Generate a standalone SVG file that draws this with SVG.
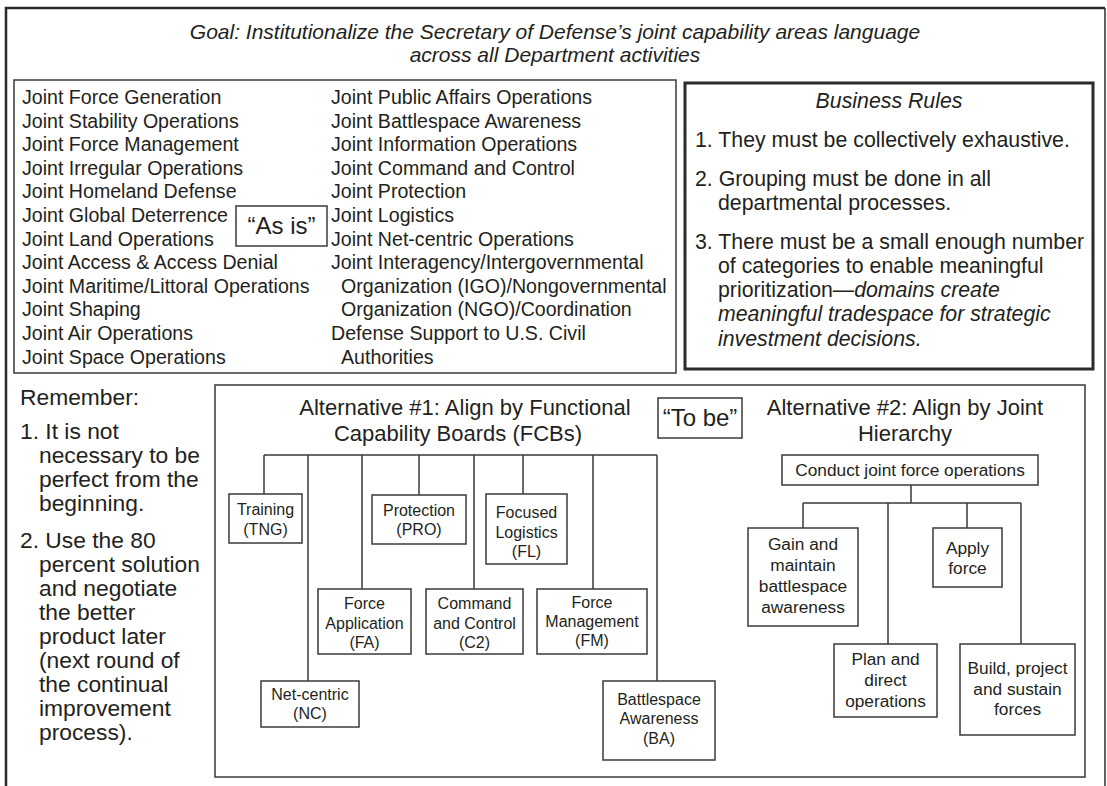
<svg xmlns="http://www.w3.org/2000/svg" width="1107" height="786" viewBox="0 0 1107 786">
  <style>
    text { font-family: "Liberation Sans", Arial, Helvetica, sans-serif; fill: #231f20; }
    .goal { font-size: 21px; font-style: italic; text-anchor: middle; }
    .list { font-size: 19.6px; }
    .rule { font-size: 21.3px; }
    .memo { font-size: 22.8px; }
    .it { font-style: italic; }
    .head { font-size: 22px; text-anchor: middle; }
    .tag { font-size: 24px; text-anchor: middle; }
    .n1 { font-size: 16px; text-anchor: middle; }
    .n2 { font-size: 17.3px; text-anchor: middle; }
    .box { fill: #fff; stroke: #3a3a3a; stroke-width: 1.5; }
    .frame { fill: none; stroke: #2b2b2b; }
    .wire { fill: none; stroke: #3a3a3a; stroke-width: 1.5; }
  </style>

  <rect width="1107" height="786" fill="#fff"/>

  <!-- open outer frame -->
  <path class="frame" d="M6,786 V8 H1105" stroke-width="2.5"/>
  <path class="frame" d="M1105,8 V786" stroke-width="1.5"/>

  <!-- goal statement -->
  <g id="goal">
    <text class="goal" x="555" y="39">Goal: Institutionalize the Secretary of Defense’s joint capability areas language</text>
    <text class="goal" x="555" y="62">across all Department activities</text>
  </g>

  <!-- current capability areas -->
  <g id="as-is-list">
    <rect class="box" x="14" y="80" width="662" height="293"/>
    <text class="list">
      <tspan x="22" y="104">Joint Force Generation</tspan>
      <tspan x="22" y="127.6">Joint Stability Operations</tspan>
      <tspan x="22" y="151.2">Joint Force Management</tspan>
      <tspan x="22" y="174.8">Joint Irregular Operations</tspan>
      <tspan x="22" y="198.4">Joint Homeland Defense</tspan>
      <tspan x="22" y="222">Joint Global Deterrence</tspan>
      <tspan x="22" y="245.6">Joint Land Operations</tspan>
      <tspan x="22" y="269.2">Joint Access &amp; Access Denial</tspan>
      <tspan x="22" y="292.8">Joint Maritime/Littoral Operations</tspan>
      <tspan x="22" y="316.4">Joint Shaping</tspan>
      <tspan x="22" y="340">Joint Air Operations</tspan>
      <tspan x="22" y="363.6">Joint Space Operations</tspan>
    </text>
    <text class="list">
      <tspan x="331" y="104">Joint Public Affairs Operations</tspan>
      <tspan x="331" y="127.6">Joint Battlespace Awareness</tspan>
      <tspan x="331" y="151.2">Joint Information Operations</tspan>
      <tspan x="331" y="174.8">Joint Command and Control</tspan>
      <tspan x="331" y="198.4">Joint Protection</tspan>
      <tspan x="331" y="222">Joint Logistics</tspan>
      <tspan x="331" y="245.6">Joint Net-centric Operations</tspan>
      <tspan x="331" y="269.2">Joint Interagency/Intergovernmental</tspan>
      <tspan x="341" y="292.8">Organization (IGO)/Nongovernmental</tspan>
      <tspan x="341" y="316.4">Organization (NGO)/Coordination</tspan>
      <tspan x="331" y="340">Defense Support to U.S. Civil</tspan>
      <tspan x="341" y="363.6">Authorities</tspan>
    </text>
  </g>

  <g id="as-is-tag">
    <rect class="box" x="236" y="206" width="91" height="40"/>
    <text class="tag" x="281.5" y="234">“As is”</text>
  </g>

  <!-- business rules -->
  <g id="business-rules">
    <rect x="685" y="83" width="408" height="286" fill="#fff" stroke="#2b2b2b" stroke-width="3"/>
    <text class="rule it" x="889" y="108" text-anchor="middle">Business Rules</text>
    <text class="rule">
      <tspan x="695" y="147">1. They must be collectively exhaustive.</tspan>
      <tspan x="695" y="186">2. Grouping must be done in all</tspan>
      <tspan x="718" y="210">departmental processes.</tspan>
      <tspan x="695" y="249">3. There must be a small enough number</tspan>
      <tspan x="718" y="273">of categories to enable meaningful</tspan>
      <tspan x="718" y="297">prioritization—<tspan class="it">domains create</tspan></tspan>
      <tspan x="718" y="321" class="it">meaningful tradespace for strategic</tspan>
      <tspan x="718" y="346" class="it">investment decisions.</tspan>
    </text>
  </g>

  <!-- reminders -->
  <g id="remember">
    <text class="memo">
      <tspan x="20" y="405">Remember:</tspan>
      <tspan x="20" y="439">1. It is not</tspan>
      <tspan x="39" y="463">necessary to be</tspan>
      <tspan x="39" y="487">perfect from the</tspan>
      <tspan x="39" y="511">beginning.</tspan>
      <tspan x="20" y="548">2. Use the 80</tspan>
      <tspan x="39" y="572">percent solution</tspan>
      <tspan x="39" y="596">and negotiate</tspan>
      <tspan x="39" y="620">the better</tspan>
      <tspan x="39" y="644">product later</tspan>
      <tspan x="39" y="668">(next round of</tspan>
      <tspan x="39" y="692">the continual</tspan>
      <tspan x="39" y="716">improvement</tspan>
      <tspan x="39" y="740">process).</tspan>
    </text>
  </g>

  <!-- target alternatives panel -->
  <g id="to-be-panel">
    <rect class="box" x="215" y="385" width="870" height="392"/>
    <text class="head" x="465" y="415">Alternative #1: Align by Functional</text>
    <text class="head" x="458" y="441">Capability Boards (FCBs)</text>
    <text class="head" x="905" y="415">Alternative #2: Align by Joint</text>
    <text class="head" x="905" y="441">Hierarchy</text>
  </g>

  <g id="to-be-tag">
    <rect class="box" x="658" y="398" width="84" height="40"/>
    <text class="tag" x="700" y="426">“To be”</text>
  </g>

  <!-- connectors -->
  <g id="connectors">
    <path class="wire" d="M264,455 H657 M264,455 V494 M308,455 V681 M362,455 V589 M419,455 V495 M474,455 V589 M523,455 V494 M593,455 V589 M657,455 V681"/>
    <path class="wire" d="M911,485 V503 M803,503 H1021 M803,503 V528 M888,503 V644 M967,503 V528 M1021,503 V644"/>
  </g>

  <!-- alternative 1 nodes -->
  <g id="tng">
    <rect class="box" x="229" y="494" width="73" height="49"/>
    <text class="n1"><tspan x="265.5" y="515">Training</tspan><tspan x="265.5" y="535">(TNG)</tspan></text>
  </g>
  <g id="pro">
    <rect class="box" x="372" y="495" width="94" height="49"/>
    <text class="n1"><tspan x="419" y="516">Protection</tspan><tspan x="419" y="535">(PRO)</tspan></text>
  </g>
  <g id="fl">
    <rect class="box" x="486" y="494" width="81" height="70"/>
    <text class="n1"><tspan x="526.5" y="518">Focused</tspan><tspan x="526.5" y="538">Logistics</tspan><tspan x="526.5" y="557">(FL)</tspan></text>
  </g>
  <g id="fa">
    <rect class="box" x="318" y="589" width="93" height="65"/>
    <text class="n1"><tspan x="364.5" y="609">Force</tspan><tspan x="364.5" y="629">Application</tspan><tspan x="364.5" y="648">(FA)</tspan></text>
  </g>
  <g id="c2">
    <rect class="box" x="426" y="589" width="97" height="65"/>
    <text class="n1"><tspan x="474.5" y="609">Command</tspan><tspan x="474.5" y="629">and Control</tspan><tspan x="474.5" y="648">(C2)</tspan></text>
  </g>
  <g id="fm">
    <rect class="box" x="537" y="589" width="110" height="65"/>
    <text class="n1"><tspan x="592" y="608">Force</tspan><tspan x="592" y="627">Management</tspan><tspan x="592" y="646">(FM)</tspan></text>
  </g>
  <g id="nc">
    <rect class="box" x="261" y="681" width="98" height="46"/>
    <text class="n1"><tspan x="310" y="700">Net-centric</tspan><tspan x="310" y="719">(NC)</tspan></text>
  </g>
  <g id="ba">
    <rect class="box" x="603" y="681" width="112" height="79"/>
    <text class="n1"><tspan x="659" y="705">Battlespace</tspan><tspan x="659" y="724">Awareness</tspan><tspan x="659" y="744">(BA)</tspan></text>
  </g>

  <!-- alternative 2 nodes -->
  <g id="conduct">
    <rect class="box" x="782" y="455" width="256" height="30"/>
    <text class="n2" x="910" y="476">Conduct joint force operations</text>
  </g>
  <g id="gain">
    <rect class="box" x="748" y="528" width="110" height="98"/>
    <text class="n2"><tspan x="803" y="550">Gain and</tspan><tspan x="803" y="571">maintain</tspan><tspan x="803" y="592">battlespace</tspan><tspan x="803" y="613">awareness</tspan></text>
  </g>
  <g id="apply">
    <rect class="box" x="933" y="528" width="69" height="59"/>
    <text class="n2"><tspan x="967.5" y="554">Apply</tspan><tspan x="967.5" y="574">force</tspan></text>
  </g>
  <g id="plan">
    <rect class="box" x="834" y="644" width="103" height="73"/>
    <text class="n2"><tspan x="885.5" y="665">Plan and</tspan><tspan x="885.5" y="686">direct</tspan><tspan x="885.5" y="707">operations</tspan></text>
  </g>
  <g id="build">
    <rect class="box" x="960" y="644" width="115" height="91"/>
    <text class="n2"><tspan x="1017.5" y="674">Build, project</tspan><tspan x="1017.5" y="695">and sustain</tspan><tspan x="1017.5" y="715">forces</tspan></text>
  </g>
</svg>
